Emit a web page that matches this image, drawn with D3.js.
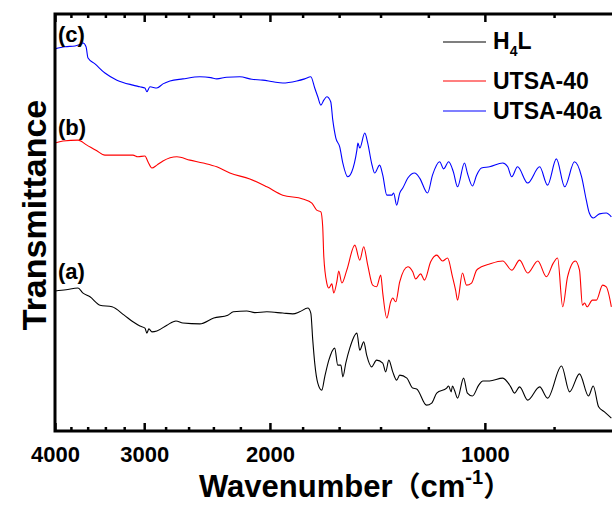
<!DOCTYPE html>
<html>
<head>
<meta charset="utf-8">
<script src="https://cdn.jsdelivr.net/npm/d3@7"></script>
<style>
  html, body { margin: 0; padding: 0; background: #fff; }
  svg { display: block; font-family: "Liberation Sans", Arial, "Noto Sans CJK SC", sans-serif; }
</style>
</head>
<body>
<svg id="chart" width="612" height="506"></svg>
<script>
// ---- data (wavenumber in cm^-1, transmittance in arbitrary units, offset per curve) ----
const seriesNames = ["H\u2084L", "UTSA-40", "UTSA-40a"];
const curveLabels = ["(a)", "(b)", "(c)"];
const majorTicks = [4000, 3000, 2000, 1000];
const minorTicks = [3800, 3600, 3400, 3200, 2800, 2600, 2400, 2200, 1800, 1600, 1400, 1200, 800, 600];

// (a) H4L – black
const wnA = [4000,3860,3714,3654,3573,3460,3328,3200,3111,3042,2993,2974,2955,2926,2880,2788,2708,2648,2507,2397,2291,2250,2155,2100,2020,1919,1858,1817,1770,1753,1742,1731,1714,1692,1676,1654,1623,1607,1591,1581,1566,1546,1511,1497,1478,1464,1441,1418,1390,1377,1363,1346,1329,1316,1286,1262,1246,1207,1187,1168,1131,1124,1115,1110,1103,1092,1071,1058,1041,1020,1007,985,944,920,909,894,871,838,817,781,761,737,716,705,693,680,665];
const tA  = [33.6,33.9,34.3,33.1,32.2,30.2,29.8,27.8,26.2,25.2,24.7,23.5,24.5,23.8,24.0,25.4,26.4,25.9,25.7,27.1,27.8,28.6,28.8,28.4,28.6,28.3,28.1,28.6,29.5,28.3,21.8,16.3,11.5,9.8,13.0,17.0,19.9,15.8,15.8,13.0,16.3,19.9,23.5,19.4,21.4,18.2,15.4,17.0,16.3,14.2,17.0,14.2,12.2,13.4,12.7,10.3,10.1,6.2,6.7,9.1,10.3,10.8,9.4,10.8,9.8,7.9,12.7,9.1,8.4,11.0,12.0,12.0,12.7,10.6,9.1,10.6,7.4,10.6,7.9,15.6,9.4,13.7,8.4,10.8,5.8,4.6,3.1];

// (b) UTSA-40 – red
const wnB = [4000,3898,3714,3609,3500,3405,3250,3111,3062,2993,2964,2926,2880,2824,2700,2589,2480,2374,2276,2134,2020,1919,1799,1747,1720,1697,1687,1681,1665,1654,1638,1628,1612,1602,1586,1561,1521,1497,1478,1459,1436,1418,1399,1390,1372,1355,1346,1333,1316,1282,1262,1250,1230,1215,1191,1168,1146,1128,1110,1099,1092,1075,1061,1044,1027,1011,985,944,917,894,871,843,820,802,791,778,766,747,737,730,725,719,707,698,684,676,665];
const tB  = [69.1,69.6,69.8,68.6,67.3,66.2,66.2,66.2,65.8,66.0,64.6,63.1,63.8,64.8,65.8,65.0,64.3,63.4,61.9,60.5,58.6,56.6,55.7,54.7,53.0,52.6,49.0,41.8,35.5,34.3,35.3,33.1,35.8,38.4,35.5,38.6,44.6,41.0,44.2,39.8,35.0,34.6,37.4,33.1,27.1,31.0,31.9,31.0,35.8,39.4,38.2,36.5,37.7,36.2,40.6,42.2,40.8,41.5,37.0,33.8,31.4,37.9,35.0,35.5,38.6,39.4,40.1,40.8,38.6,41.0,37.9,40.8,37.0,40.3,41.5,29.8,37.0,40.8,38.6,30.2,30.7,29.8,31.4,31.4,35.0,34.6,29.8];

// (c) UTSA-40a – blue
const wnC = [4000,3873,3750,3700,3654,3619,3596,3516,3405,3276,3111,3042,2993,2974,2945,2880,2824,2761,2648,2507,2420,2374,2300,2204,2120,2047,1980,1919,1834,1788,1753,1731,1714,1697,1681,1665,1644,1633,1617,1597,1581,1556,1536,1511,1506,1497,1473,1459,1441,1427,1404,1390,1372,1350,1342,1329,1316,1303,1282,1254,1234,1203,1184,1157,1142,1124,1107,1092,1068,1058,1041,1027,1011,985,944,929,917,900,871,838,817,794,773,749,732,721,714,705,691,676,665];
const tC  = [91.7,92.2,92.4,92.7,93.1,92.2,89.5,88.1,85.9,84.2,83.0,82.6,82.3,81.4,82.6,82.3,83.3,84.0,84.5,85.0,84.8,84.5,84.9,85.0,84.4,84.2,83.8,83.5,84.0,84.5,85.0,82.3,80.2,78.2,79.4,80.2,79.0,74.6,70.3,68.2,64.3,61.0,62.2,67.4,69.1,67.9,71.5,69.1,64.3,61.9,63.8,61.4,56.6,56.6,57.1,54.2,57.1,58.3,60.7,61.9,60.7,57.1,61.4,64.6,62.9,64.6,62.2,58.6,64.3,61.9,58.8,61.4,63.1,63.4,64.3,63.4,61.0,63.4,59.5,63.4,59.0,65.3,58.6,64.6,61.0,55.4,52.3,51.1,52.1,52.3,51.4];

const colors = ["#000000", "#ff0000", "#0000ff"];

// ---- layout ----
const svg = d3.select("#chart");
const plotLeft = 55, plotRight = 769, plotTop = 14, plotBottom = 431;

const x = d3.scaleLog().domain([4000, 400]).range([plotLeft, plotRight]);
const y = d3.scaleLinear().domain([0, 100]).range([plotBottom, plotTop + 0.3]);

const series = [
  {wn: wnA, t: tA, color: colors[0]},
  {wn: wnB, t: tB, color: colors[1]},
  {wn: wnC, t: tC, color: colors[2]}
];

const line = d3.line()
  .x(d => x(d[0]))
  .y(d => y(d[1]))
  .curve(d3.curveMonotoneX);

svg.append("g").selectAll("path")
  .data(series)
  .join("path")
  .attr("d", s => line(s.wn.map((w, i) => [w, s.t[i]])))
  .attr("fill", "none")
  .attr("stroke", s => s.color)
  .attr("stroke-width", 1.1);

// ---- axes ----
const axisFont = g => g.selectAll("text")
  .attr("font-size", 22).attr("font-weight", "bold").attr("fill", "#000")
  .attr("font-family", "'Liberation Sans', Arial, sans-serif");

const gB = svg.append("g").attr("transform", `translate(0,${plotBottom})`);
gB.call(d3.axisBottom(x).tickValues(majorTicks).tickFormat(d3.format("d")).tickSize(-8).tickPadding(15));
gB.call(axisFont);
gB.select(".domain").remove();
gB.selectAll(".tick line").attr("stroke", "#000").attr("stroke-width", 2.5);

const gBm = svg.append("g").attr("transform", `translate(0,${plotBottom})`);
gBm.call(d3.axisBottom(x).tickValues(minorTicks).tickFormat("").tickSize(-4));
gBm.select(".domain").remove();
gBm.selectAll(".tick line").attr("stroke", "#000").attr("stroke-width", 2.5);

const gT = svg.append("g").attr("transform", `translate(0,${plotTop})`);
gT.call(d3.axisTop(x).tickValues(majorTicks).tickFormat("").tickSize(-8));
gT.select(".domain").remove();
gT.selectAll(".tick line").attr("stroke", "#000").attr("stroke-width", 2.5);

const gTm = svg.append("g").attr("transform", `translate(0,${plotTop})`);
gTm.call(d3.axisTop(x).tickValues(minorTicks).tickFormat("").tickSize(-4));
gTm.select(".domain").remove();
gTm.selectAll(".tick line").attr("stroke", "#000").attr("stroke-width", 2.5);

// frame
svg.append("path")
  .attr("d", `M${plotRight},${plotTop}H${plotLeft}V${plotBottom}H${plotRight}`)
  .attr("fill", "none").attr("stroke", "#000").attr("stroke-width", 3);

// ---- titles ----
const xt = svg.append("text")
  .attr("x", 199).attr("y", 497)
  .attr("font-size", 31).attr("font-weight", "bold").attr("fill", "#000");
xt.append("tspan").text("Wavenumber");
xt.append("tspan").attr("font-family", "'Noto Sans CJK SC', sans-serif").attr("font-size", 28).attr("font-weight", "bold").text("\uFF08");
xt.append("tspan").text("cm");
xt.append("tspan").attr("font-size", 20).attr("dy", -13).text("-1");
xt.append("tspan").attr("dy", 13).attr("font-family", "'Noto Sans CJK SC', sans-serif").attr("font-size", 28).attr("font-weight", "bold").text("\uFF09");

svg.append("text")
  .attr("transform", "translate(46,215) rotate(-90)")
  .attr("text-anchor", "middle")
  .attr("font-size", 34).attr("font-weight", "bold").attr("fill", "#000")
  .text("Transmittance");

// curve labels
const labelPos = [[58, 279], [58, 135], [58, 42]];
svg.append("g").selectAll("text")
  .data(curveLabels)
  .join("text")
  .attr("x", (d, i) => labelPos[i][0])
  .attr("y", (d, i) => labelPos[i][1])
  .attr("font-size", 22).attr("font-weight", "bold").attr("fill", "#000")
  .text(d => d);

// ---- legend ----
const legendY = [42, 81, 111];
const lg = svg.append("g");
seriesNames.forEach((name, i) => {
  lg.append("line")
    .attr("x1", 443).attr("x2", 486)
    .attr("y1", legendY[i]).attr("y2", legendY[i])
    .attr("stroke", colors[i]).attr("stroke-width", 1.2);
});
// H4L with subscript
const h = lg.append("text").attr("x", 493).attr("y", legendY[0] + 7)
  .attr("font-size", 23).attr("font-weight", "bold").attr("fill", "#000");
h.append("tspan").text("H");
h.append("tspan").attr("font-size", 14).attr("dy", 7).text("4");
h.append("tspan").attr("dy", -7).text("L");
[1, 2].forEach(i => {
  lg.append("text").attr("x", 493).attr("y", legendY[i] + 8)
    .attr("font-size", 23).attr("font-weight", "bold").attr("fill", "#000")
    .text(seriesNames[i]);
});
</script>
</body>
</html>
